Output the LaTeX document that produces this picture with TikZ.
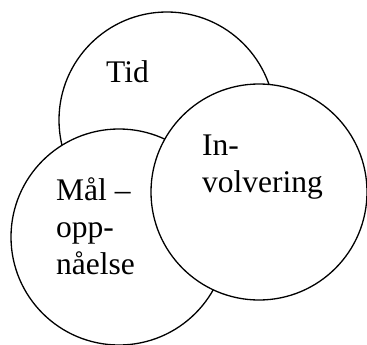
\documentclass[tikz,border=0pt]{standalone}
\usepackage{fontspec}
\setmainfont{Liberation Serif}
\tikzset{
  ring/.style={circle, draw=black, fill=white, line width=1.3pt, minimum size=216pt, inner sep=0pt},
  word/.style={anchor=base west, inner sep=0pt, align=left, font=\fontsize{31.5pt}{37pt}\selectfont}
}
\begin{document}
\begin{tikzpicture}[x=1pt, y=-1pt]
  \useasboundingbox (0,0) rectangle (367,345);
  % three overlapping rings, later ones painted over earlier ones
  \node[ring] (tid) at (167,120) {};
  \node[ring] (maal) at (119,237) {};
  \node[ring] (inv) at (259,192) {};

  % labels sit on the baseline of their last line
  \node[word] (tidtxt) at (106,82) {Tid};
  \node[word] (invtxt) at (202,192) {In-\\volvering};
  \node[word] (maaltxt) at (56,274) {Mål –\\opp-\\nåelse};
\end{tikzpicture}
\end{document}
